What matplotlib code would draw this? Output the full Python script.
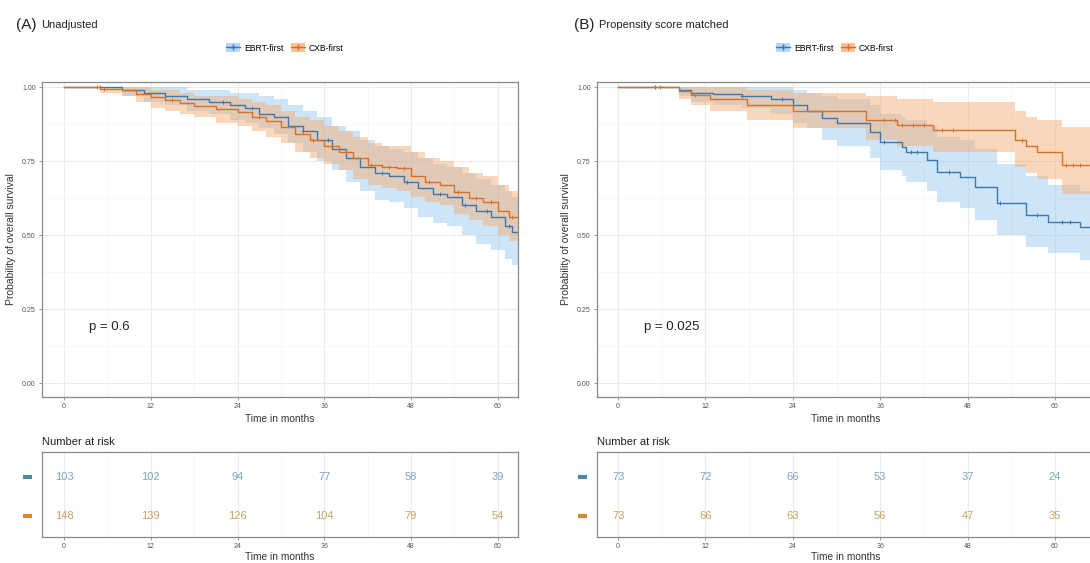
import matplotlib
matplotlib.use("Agg")
import matplotlib.pyplot as plt
from matplotlib.patches import Patch
from matplotlib.lines import Line2D
from matplotlib import transforms
from matplotlib.ticker import MultipleLocator
import numpy as np

plt.rcParams['font.family'] = ['Liberation Sans', 'DejaVu Sans']

W, H = 1090, 563

# ---- data ----
# (A) Unadjusted
a_ebrt_t = [0, 8, 11, 14, 17, 20, 23, 25, 27, 29, 31, 33, 35, 37, 39, 41, 43, 45, 47, 49, 51, 53, 55, 57, 59, 61, 62, 63]
a_ebrt_s = [1.00, 0.99, 0.98, 0.97, 0.96, 0.95, 0.94, 0.93, 0.91, 0.90, 0.87, 0.85, 0.82, 0.79, 0.76, 0.73, 0.71, 0.70, 0.68, 0.66, 0.64, 0.63, 0.60, 0.58, 0.56, 0.53, 0.51, 0.51]
a_ebrt_lo = [1.00, 0.97, 0.95, 0.94, 0.92, 0.91, 0.89, 0.88, 0.86, 0.84, 0.81, 0.78, 0.75, 0.72, 0.68, 0.65, 0.62, 0.61, 0.59, 0.56, 0.54, 0.53, 0.50, 0.47, 0.45, 0.42, 0.40, 0.40]
a_ebrt_hi = [1.00, 1.00, 1.00, 1.00, 0.99, 0.99, 0.98, 0.98, 0.97, 0.96, 0.94, 0.92, 0.90, 0.87, 0.85, 0.82, 0.80, 0.79, 0.78, 0.76, 0.74, 0.73, 0.71, 0.69, 0.67, 0.65, 0.63, 0.63]
a_ebrt_cens = [5, 22, 26, 33, 36.5, 38, 44, 47.5, 52, 55.5, 58.5, 61.5]

a_cxb_t = [0, 5, 8, 10, 12, 14, 16, 18, 21, 24, 26, 28, 30, 32, 34, 36, 38, 40, 42, 44, 46, 48, 50, 52, 54, 56, 58, 60, 61.5, 63]
a_cxb_s = [1.00, 0.995, 0.99, 0.975, 0.965, 0.955, 0.945, 0.935, 0.925, 0.915, 0.90, 0.885, 0.865, 0.84, 0.82, 0.80, 0.78, 0.76, 0.735, 0.73, 0.725, 0.70, 0.68, 0.67, 0.645, 0.625, 0.61, 0.58, 0.56, 0.56]
a_cxb_lo = [1.00, 0.98, 0.97, 0.95, 0.93, 0.92, 0.91, 0.90, 0.88, 0.87, 0.85, 0.83, 0.81, 0.78, 0.76, 0.74, 0.72, 0.69, 0.67, 0.66, 0.65, 0.63, 0.61, 0.60, 0.57, 0.55, 0.53, 0.50, 0.48, 0.48]
a_cxb_hi = [1.00, 1.00, 1.00, 1.00, 0.99, 0.99, 0.98, 0.97, 0.97, 0.96, 0.95, 0.94, 0.92, 0.90, 0.89, 0.87, 0.85, 0.83, 0.81, 0.80, 0.80, 0.78, 0.76, 0.75, 0.73, 0.71, 0.70, 0.67, 0.65, 0.65]
a_cxb_cens = [4.5, 5.5, 15, 27, 34.5, 39, 42.5, 45, 47, 50.5, 54.5, 57, 59, 62]

# (B) Propensity score matched
b_ebrt_t = [0, 8.3, 10, 13, 17, 21, 24, 26, 28, 30, 34.6, 36, 39, 39.6, 42.4, 43.8, 47, 49, 52, 56, 59, 63.5, 66]
b_ebrt_s = [1.00, 0.99, 0.98, 0.975, 0.97, 0.96, 0.94, 0.92, 0.895, 0.878, 0.848, 0.814, 0.797, 0.78, 0.753, 0.713, 0.696, 0.662, 0.608, 0.568, 0.544, 0.527, 0.527]
b_ebrt_lo = [1.00, 0.97, 0.95, 0.94, 0.93, 0.91, 0.88, 0.86, 0.82, 0.80, 0.76, 0.72, 0.70, 0.68, 0.65, 0.61, 0.59, 0.55, 0.50, 0.46, 0.44, 0.415, 0.415]
b_ebrt_hi = [1.00, 1.00, 1.00, 1.00, 1.00, 1.00, 0.99, 0.98, 0.97, 0.96, 0.94, 0.91, 0.90, 0.89, 0.87, 0.83, 0.82, 0.79, 0.74, 0.70, 0.67, 0.65, 0.65]
b_ebrt_cens = [5, 17, 22.5, 36.5, 40.2, 41, 45.5, 52.5, 57.5, 61, 62]

b_cxb_t = [0, 8.3, 10, 12.6, 17.7, 24, 34, 38.3, 43.3, 54.5, 56, 57.5, 61, 66]
b_cxb_s = [1.00, 0.985, 0.973, 0.96, 0.94, 0.92, 0.889, 0.872, 0.855, 0.82, 0.80, 0.78, 0.737, 0.737]
b_cxb_lo = [1.00, 0.96, 0.94, 0.92, 0.89, 0.86, 0.82, 0.80, 0.78, 0.73, 0.71, 0.69, 0.64, 0.64]
b_cxb_hi = [1.00, 1.00, 1.00, 1.00, 0.99, 0.98, 0.97, 0.96, 0.95, 0.92, 0.90, 0.89, 0.865, 0.865]
b_cxb_cens = [5.8, 10.5, 36.5, 38, 39, 40.5, 42, 44.5, 46, 55.5, 61.5, 62.5, 63.5]

risk_times = [0, 12, 24, 36, 48, 60]
a_risk_ebrt = [103, 102, 94, 77, 58, 39]
a_risk_cxb = [148, 139, 126, 104, 79, 54]
b_risk_ebrt = [73, 72, 66, 53, 37, 24]
b_risk_cxb = [73, 66, 63, 56, 47, 35]

labels = ["EBRT-first", "CXB-first"]

# colours
blue_line, blue_fill = "#3c78b0", "#94c6ee"
orng_line, orng_fill = "#d8702a", "#f6a86a"
blue_txt, orng_txt = "#7fa3bd", "#c9a25a"
grey_txt = "#555555"


def px(l, t, r, b):
    return [l / W, 1 - b / H, (r - l) / W, (b - t) / H]


def step_val(ts, ss, x):
    i = np.searchsorted(ts, x, side='right') - 1
    return ss[max(i, 0)]


def km(ax, t, s, lo, hi, cens, lc, fc):
    ax.fill_between(t, lo, hi, step='post', color=fc, alpha=0.45, lw=0)
    ax.step(t, s, where='post', color=lc, lw=1.0)
    cy = [step_val(t, s, c) for c in cens]
    ax.plot(cens, cy, ls='none', marker='+', ms=3.5, mew=0.7, color=lc)


def style(ax, xlim):
    ax.set_xlim(xlim)
    ax.xaxis.set_major_locator(MultipleLocator(12))
    ax.xaxis.set_minor_locator(MultipleLocator(6))
    ax.grid(which='major', color='#ebebeb', lw=0.8)
    ax.grid(which='minor', color='#f4f4f4', lw=0.5)
    ax.set_axisbelow(True)
    for sp in ax.spines.values():
        sp.set_color('#888888')
        sp.set_linewidth(0.9)
    ax.tick_params(which='major', length=2, width=0.6, color='#888888',
                   labelsize=5, labelcolor=grey_txt, pad=2.5)
    ax.tick_params(which='minor', length=0)


fig = plt.figure(figsize=(W / 100, H / 100), dpi=100)

panels = [
    dict(main=(42, 82, 518, 397), risk=(42, 452, 518, 537), xlim=(-3.05, 62.8),
         tag="(A)", title="Unadjusted", tx=16, leg_x=285, p="p = 0.6",
         ebrt=(a_ebrt_t, a_ebrt_s, a_ebrt_lo, a_ebrt_hi, a_ebrt_cens),
         cxb=(a_cxb_t, a_cxb_s, a_cxb_lo, a_cxb_hi, a_cxb_cens),
         risk_e=a_risk_ebrt, risk_c=a_risk_cxb),
    dict(main=(597, 82, 1095, 397), risk=(597, 452, 1095, 537), xlim=(-2.9, 65.5),
         tag="(B)", title="Propensity score matched", tx=574, leg_x=835, p="p = 0.025",
         ebrt=(b_ebrt_t, b_ebrt_s, b_ebrt_lo, b_ebrt_hi, b_ebrt_cens),
         cxb=(b_cxb_t, b_cxb_s, b_cxb_lo, b_cxb_hi, b_cxb_cens),
         risk_e=b_risk_ebrt, risk_c=b_risk_cxb),
]

for pn in panels:
    ax = fig.add_axes(px(*pn['main']))
    km(ax, *pn['ebrt'], blue_line, blue_fill)
    km(ax, *pn['cxb'], orng_line, orng_fill)
    style(ax, pn['xlim'])
    ax.set_ylim(-0.047, 1.017)
    ax.yaxis.set_major_locator(MultipleLocator(0.25))
    ax.yaxis.set_minor_locator(MultipleLocator(0.125))
    ax.yaxis.set_major_formatter(lambda v, p: f"{v:.2f}")
    ax.set_xlabel("Time in months", fontsize=7.3, color='#333333', labelpad=3)
    ax.set_ylabel("Probability of overall survival", fontsize=7.5, color='#333333', labelpad=4)
    ax.text(3.5, 0.19, pn['p'], fontsize=9.5, color='#222222', va='center')

    # panel tag and title
    fig.text(pn['tx'] / W, 1 - 25 / H, pn['tag'], fontsize=11, color='#222222', va='center')
    fig.text((pn['tx'] + 25) / W, 1 - 25 / H, pn['title'], fontsize=8, color='#222222', va='center')

    # legend on top
    handles = [(Patch(color=blue_fill, alpha=0.7, lw=0), Line2D([], [], color=blue_line, marker='+', lw=1, ms=5)),
               (Patch(color=orng_fill, alpha=0.7, lw=0), Line2D([], [], color=orng_line, marker='+', lw=1, ms=5))]
    fig.legend(handles, labels, loc='center', bbox_to_anchor=(pn['leg_x'] / W, 1 - 48 / H),
               ncol=2, frameon=False, fontsize=6.2, handlelength=1.6, handleheight=1.2,
               columnspacing=0.8, handletextpad=0.5)

    # risk table
    rx = fig.add_axes(px(*pn['risk']))
    style(rx, pn['xlim'])
    rx.set_ylim(-0.54, 1.64)
    rx.set_yticks([])
    rx.grid(axis='y', visible=False)
    for x, v in zip(risk_times, pn['risk_e']):
        rx.text(x, 1, str(v), ha='center', va='center', fontsize=8, color=blue_txt)
    for x, v in zip(risk_times, pn['risk_c']):
        rx.text(x, 0, str(v), ha='center', va='center', fontsize=8, color=orng_txt)
    tr = transforms.blended_transform_factory(fig.transFigure, rx.transData)
    x0 = (pn['main'][0] - 19) / W
    x1 = (pn['main'][0] - 10) / W
    rx.plot([x0, x1], [1, 1], transform=tr, color='#4a8aa0', lw=3, clip_on=False, solid_capstyle='butt')
    rx.plot([x0, x1], [0, 0], transform=tr, color='#d8853a', lw=3, clip_on=False, solid_capstyle='butt')
    rx.set_xlabel("Time in months", fontsize=7.3, color='#333333', labelpad=1.5)
    fig.text(pn['main'][0] / W, 1 - 442 / H, "Number at risk", fontsize=8, color='#222222', va='center')

plt.savefig("out.png", dpi=100)
